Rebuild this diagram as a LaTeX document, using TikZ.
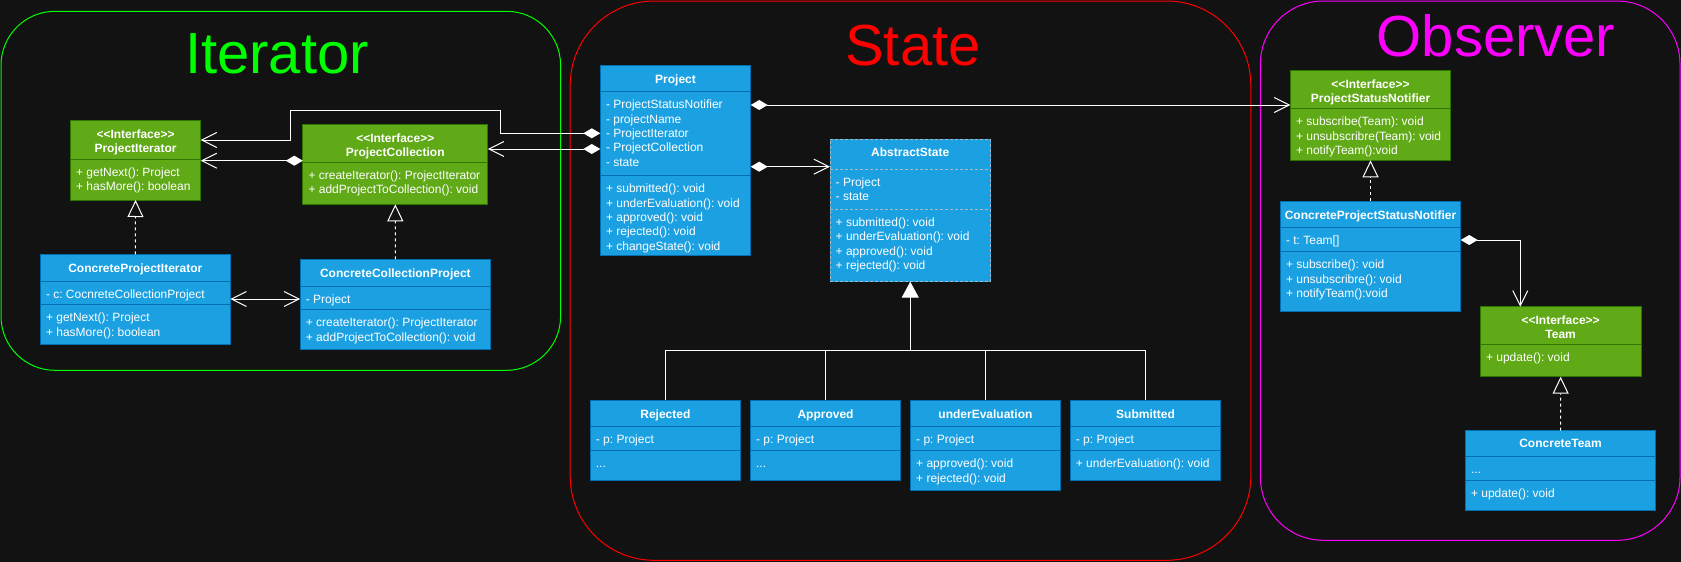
\documentclass[tikz,border=0pt]{standalone}
\usepackage{fontspec}
\setmainfont{Liberation Sans}
\usetikzlibrary{arrows.meta,calc}
\definecolor{bgc}{HTML}{121212}
\definecolor{bfill}{HTML}{1BA1E2}
\definecolor{bstroke}{HTML}{006EAF}
\definecolor{gfill}{HTML}{60A917}
\definecolor{gstroke}{HTML}{2D7600}
\definecolor{dashgray}{HTML}{A9B8C6}
\definecolor{fgreen}{HTML}{00FF00}
\definecolor{fred}{HTML}{FF0000}
\definecolor{fmag}{HTML}{FF00FF}
\frenchspacing
\newcommand\ltlt{<\kern0pt<}
\newcommand\gtgt{>\kern0pt>}
\newcommand\tdots{...}
\newcommand\cls[6]{\node[#2, anchor=north west, minimum width={#5-#3}, minimum height={#6-#4}] (#1) at (#3,#4) {};}
\newcommand\dvd[4]{\draw[#1] (#2,#4) -- (#3,#4);}
\newcommand\hd[4]{\node[hdtxt, anchor=base] (#1) at (#2,#3+4.3) {#4};}
\newcommand\rws[4]{\foreach \tx [count=\ii from 0] in {#4} {\node[rowtxt, anchor=base west] (#1-\ii) at (#2+5.5,#3+17+14.4*\ii) {\tx};}}
\begin{document}
\frenchspacing
\begin{tikzpicture}[x=1pt,y=-1pt,
  bbox/.style={draw=bstroke, fill=bfill, line width=1pt, outer sep=0pt, inner sep=0pt},
  gbox/.style={draw=gstroke, fill=gfill, line width=1pt, outer sep=0pt, inner sep=0pt},
  dbox/.style={draw=dashgray, fill=bfill, line width=1pt, outer sep=0pt, inner sep=0pt, dash pattern=on 3pt off 2pt},
  bdiv/.style={draw=bstroke, line width=1pt},
  gdiv/.style={draw=gstroke, line width=1pt},
  ddiv/.style={draw=dashgray, line width=1pt, dash pattern=on 3pt off 2pt},
  rowtxt/.style={text=white, inner sep=0pt, font=\fontsize{12}{14.4}\selectfont\frenchspacing},
  hdtxt/.style={text=white, inner sep=0pt, font=\fontsize{12}{14.4}\selectfont\bfseries\frenchspacing},
  frame/.style={line width=1pt, anchor=north west, outer sep=0pt, inner sep=0pt},
  ttl/.style={inner sep=0pt, anchor=base, font=\fontsize{58}{70}\selectfont},
  conn/.style={draw=white, line width=1pt},
  diaopen/.style={{Diamond[length=17pt,width=10pt,fill=white]}-{Straight Barb[length=15pt,width=15pt]}},
  bidir/.style={{Straight Barb[length=15pt,width=15pt]}-{Straight Barb[length=15pt,width=15pt]}},
  real/.style={draw=white, line width=1pt, dash pattern=on 3pt off 3pt, -{Triangle[length=17pt,width=16pt,fill=bgc]}},
  gen/.style={draw=white, line width=1pt, -{Triangle[length=16pt,width=17pt,fill=white]}}
]
\useasboundingbox (0,0) rectangle (1681,562);
\fill[bgc] (0,0) rectangle (1681,562);

% frames
\node[frame, draw=fgreen, rounded corners=54pt, minimum width=559.6, minimum height=359] (fIter) at (1,11.3) {};
\node[frame, draw=fred, rounded corners=84pt, minimum width=680.6, minimum height=559.3] (fState) at (570.2,1) {};
\node[frame, draw=fmag, rounded corners=63pt, minimum width=419.6, minimum height=539.3] (fObs) at (1260.4,1) {};
\node[ttl, text=fgreen] (tIter) at (277,73.7) {Iterator};
\node[ttl, text=fred] (tState) at (913,65.5) {State};
\node[ttl, text=fmag] (tObs) at (1496,56.5) {Observer};

% ProjectIterator
\cls{PI}{gbox}{70.4}{120.7}{200.7}{200}
\dvd{gdiv}{70.4}{200.7}{159}
\hd{PI-h1}{135.55}{133.7}{\ltlt Interface\gtgt}
\hd{PI-h2}{135.55}{147.7}{ProjectIterator}
\rws{PI-m}{70.4}{159}{+ getNext(): Project, + hasMore(): boolean}

% ProjectCollection
\cls{PC}{gbox}{302.8}{124.3}{487.8}{204.3}
\dvd{gdiv}{302.8}{487.8}{162.3}
\hd{PC-h1}{395.3}{137.7}{\ltlt Interface\gtgt}
\hd{PC-h2}{395.3}{151.7}{ProjectCollection}
\rws{PC-m}{302.8}{162.3}{+ createIterator(): ProjectIterator, + addProjectToCollection(): void}

% ConcreteProjectIterator
\cls{CPI}{bbox}{40.3}{254.3}{230.3}{344.3}
\dvd{bdiv}{40.3}{230.3}{281}
\dvd{bdiv}{40.3}{230.3}{304.7}
\hd{CPI-h}{135.3}{267.7}{ConcreteProjectIterator}
\rws{CPI-a}{40.3}{281}{- c: CocnreteCollectionProject}
\rws{CPI-m}{40.3}{304.7}{+ getNext(): Project, + hasMore(): boolean}

% ConcreteCollectionProject
\cls{CCP}{bbox}{300.2}{259.3}{490.5}{349}
\dvd{bdiv}{300.2}{490.5}{286}
\dvd{bdiv}{300.2}{490.5}{309.7}
\hd{CCP-h}{395.35}{272.7}{ConcreteCollectionProject}
\rws{CCP-a}{300.2}{286}{- Project}
\rws{CCP-m}{300.2}{309.7}{+ createIterator(): ProjectIterator, + addProjectToCollection(): void}

% Project
\cls{Project}{bbox}{600.3}{65.3}{750.7}{255}
\dvd{bdiv}{600.3}{750.7}{91.7}
\dvd{bdiv}{600.3}{750.7}{175.7}
\hd{Project-h}{675.5}{78.7}{Project}
\rws{Project-a}{600.3}{91.7}{- ProjectStatusNotifier, - projectName, - ProjectIterator, - ProjectCollection, - state}
\rws{Project-m}{600.3}{175.7}{+ submitted(): void, + underEvaluation(): void, + approved(): void, + rejected(): void, + changeState(): void}

% AbstractState
\cls{AS}{dbox}{830}{139.3}{990.5}{281.7}
\dvd{ddiv}{830}{990.5}{169.3}
\dvd{ddiv}{830}{990.5}{209.3}
\hd{AS-h}{910.25}{152.5}{AbstractState}
\rws{AS-a}{830}{169.3}{- Project, - state}
\rws{AS-m}{830}{209.3}{+ submitted(): void, + underEvaluation(): void, + approved(): void, + rejected(): void}

% states
\cls{Rej}{bbox}{590.2}{400.3}{740.5}{480.3}
\dvd{bdiv}{590.2}{740.5}{426.5}
\dvd{bdiv}{590.2}{740.5}{450.7}
\hd{Rej-h}{665.35}{413.7}{Rejected}
\rws{Rej-a}{590.2}{426.5}{- p: Project}
\rws{Rej-m}{590.2}{450.7}{\tdots}

\cls{App}{bbox}{750.4}{400.3}{900.6}{480.3}
\dvd{bdiv}{750.4}{900.6}{426.5}
\dvd{bdiv}{750.4}{900.6}{450.7}
\hd{App-h}{825.5}{413.7}{Approved}
\rws{App-a}{750.4}{426.5}{- p: Project}
\rws{App-m}{750.4}{450.7}{\tdots}

\cls{UE}{bbox}{910.5}{400.3}{1060.4}{490.3}
\dvd{bdiv}{910.5}{1060.4}{426.5}
\dvd{bdiv}{910.5}{1060.4}{450.7}
\hd{UE-h}{985.45}{413.7}{underEvaluation}
\rws{UE-a}{910.5}{426.5}{- p: Project}
\rws{UE-m}{910.5}{450.7}{+ approved(): void, + rejected(): void}

\cls{Sub}{bbox}{1070.2}{400.3}{1220.8}{480.3}
\dvd{bdiv}{1070.2}{1220.8}{426.5}
\dvd{bdiv}{1070.2}{1220.8}{450.7}
\hd{Sub-h}{1145.5}{413.7}{Submitted}
\rws{Sub-a}{1070.2}{426.5}{- p: Project}
\rws{Sub-m}{1070.2}{450.7}{+ underEvaluation(): void}

% ProjectStatusNotifier
\cls{PSN}{gbox}{1290.3}{70.3}{1450.7}{160.3}
\dvd{gdiv}{1290.3}{1450.7}{108.7}
\hd{PSN-h1}{1370.5}{83.7}{\ltlt Interface\gtgt}
\hd{PSN-h2}{1370.5}{97.7}{ProjectStatusNotifier}
\rws{PSN-m}{1290.3}{108.7}{+ subscribe(Team): void, + unsubscribre(Team): void, + notifyTeam():void}

% ConcreteProjectStatusNotifier
\cls{CPSN}{bbox}{1280.3}{201.3}{1460.7}{311.7}
\dvd{bdiv}{1280.3}{1460.7}{227.7}
\dvd{bdiv}{1280.3}{1460.7}{251.7}
\hd{CPSN-h}{1370.5}{214.7}{ConcreteProjectStatusNotifier}
\rws{CPSN-a}{1280.3}{227.7}{- t: Team[]}
\rws{CPSN-m}{1280.3}{251.7}{+ subscribe(): void, + unsubscribre(): void, + notifyTeam():void}

% Team
\cls{Team}{gbox}{1480.3}{306.7}{1641}{376.7}
\dvd{gdiv}{1480.3}{1641}{344.7}
\hd{Team-h1}{1560.65}{319.7}{\ltlt Interface\gtgt}
\hd{Team-h2}{1560.65}{333.7}{Team}
\rws{Team-m}{1480.3}{344.7}{+ update(): void}

% ConcreteTeam
\cls{CT}{bbox}{1465.3}{430.7}{1655.8}{510.3}
\dvd{bdiv}{1465.3}{1655.8}{456.7}
\dvd{bdiv}{1465.3}{1655.8}{480.3}
\hd{CT-h}{1560.55}{443.3}{ConcreteTeam}
\rws{CT-a}{1465.3}{456.7}{\tdots}
\rws{CT-m}{1465.3}{480.3}{+ update(): void}

% connectors
\draw[conn, diaopen] ($(Project.north east)+(0,39.7)$) -- ($(PSN.north west)+(0,34.7)$);
\draw[conn, diaopen] ($(Project.north west)+(0,68)$) -- ++(-99.8,0) -- ++(0,-22.6) -- ++(-210.5,0) -- ++(0,29.3) -- ($(PI.north east)+(0,19.3)$);
\draw[conn, diaopen] ($(Project.north west)+(0,83.7)$) -- ($(PC.north east)+(0,24.7)$);
\draw[conn, diaopen] ($(PC.north west)+(0,36.4)$) -- ($(PI.north east)+(0,40)$);
\draw[conn, diaopen] ($(Project.north east)+(0,101.4)$) -- ($(AS.north west)+(0,27.4)$);
\draw[conn, diaopen] ($(CPSN.north east)+(0,38.7)$) -| ($(Team.north west)+(40,0)$);
\draw[conn, bidir] ($(CPI.north east)+(0,44.7)$) -- ($(CCP.north west)+(0,39.7)$);

\draw[real] (CPI.north) -- (PI.south);
\draw[real] (CCP.north) -- (PC.south);
\draw[real] (CPSN.north) -- (PSN.south);
\draw[real] (CT.north) -- (Team.south);

\coordinate (bar) at ($(AS.south)+(0,68.3)$);
\draw[conn] (Rej.north) |- (bar);
\draw[conn] (App.north) |- (bar);
\draw[conn] (UE.north) |- (bar);
\draw[conn] (Sub.north) |- (bar);
\draw[gen] (bar) -- (AS.south);
\end{tikzpicture}
\end{document}
